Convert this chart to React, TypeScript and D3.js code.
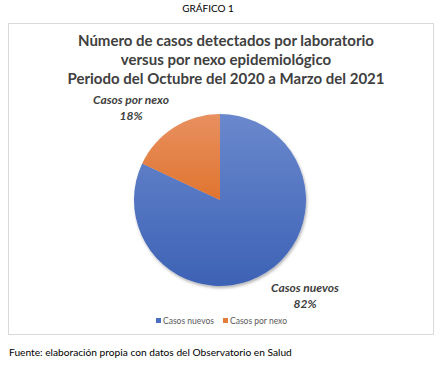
import React from 'react';
import * as d3 from 'd3';

const categories = ['Casos nuevos', 'Casos por nexo'];
const shares = [82, 18];
const colors = ['#4a6fc0', '#e47c3c'];
const titleLines = [
  'Número de casos detectados por laboratorio',
  'versus por nexo epidemiológico',
  'Periodo del Octubre del 2020 a Marzo del 2021',
];

const W = 448;
const H = 369;
const cx = 220;
const cy = 200;
const radius = 86;

const App = () => {
  const pie = d3.pie<number>().sort(null).value(d => d);
  const arcs = pie(shares);
  const arc = d3.arc<d3.PieArcDatum<number>>().innerRadius(0).outerRadius(radius);

  const font = 'Lato, "Open Sans", sans-serif';

  return (
    <svg width={W} height={H} style={{ position: 'absolute', left: 0, top: 0 }}>
      <defs>
        <linearGradient id="gBlue" x1="0" y1="0" x2="0" y2="1">
          <stop offset="0%" stopColor="#6a88cd" />
          <stop offset="100%" stopColor="#3d62b5" />
        </linearGradient>
        <linearGradient id="gOrange" x1="0" y1="0" x2="0" y2="1">
          <stop offset="0%" stopColor="#e89060" />
          <stop offset="100%" stopColor="#e0742f" />
        </linearGradient>
        <filter id="shadow" x="-20%" y="-20%" width="140%" height="140%">
          <feDropShadow dx="1" dy="2" stdDeviation="1.5" floodColor="#000" floodOpacity="0.3" />
        </filter>
      </defs>
      <rect x={0} y={0} width={W} height={H} fill="#fff" />
      <text x={208} y={12} textAnchor="middle" fontFamily={font} fontSize={10} fill="#000">
        GRÁFICO 1
      </text>
      <rect x={8.5} y={23.5} width={425} height={311} fill="#fff" stroke="#d9d9d9" />
      {titleLines.map((t, i) => (
        <text
          key={i}
          x={226}
          y={46 + i * 19}
          textAnchor="middle"
          fontFamily={font}
          fontWeight="bold"
          fontSize={15}
          fill="#404040"
        >
          {t}
        </text>
      ))}
      <g transform={`translate(${cx},${cy})`} filter="url(#shadow)">
        {arcs.map((a, i) => (
          <path key={i} d={arc(a) || ''} fill={i === 0 ? 'url(#gBlue)' : 'url(#gOrange)'} />
        ))}
      </g>
      <text x={131} y={104} textAnchor="middle" fontFamily={font} fontWeight="bold" fontStyle="italic" fontSize={12} fill="#404040">
        {categories[1]}
      </text>
      <text x={131} y={120} textAnchor="middle" fontFamily={font} fontWeight="bold" fontStyle="italic" fontSize={12} fill="#404040">
        {shares[1]}%
      </text>
      <text x={305} y={292} textAnchor="middle" fontFamily={font} fontWeight="bold" fontStyle="italic" fontSize={12} fill="#404040">
        {categories[0]}
      </text>
      <text x={305} y={308} textAnchor="middle" fontFamily={font} fontWeight="bold" fontStyle="italic" fontSize={12} fill="#404040">
        {shares[0]}%
      </text>
      {categories.map((c, i) => {
        const lx = i === 0 ? 156 : 223;
        return (
          <g key={c}>
            <rect x={lx} y={318} width={5} height={5} fill={colors[i]} />
            <text x={lx + 7} y={323.5} fontFamily={font} fontSize={8.5} fill="#595959">
              {c}
            </text>
          </g>
        );
      })}
      <text x={9} y={356} fontFamily={font} fontSize={10.2} fill="#000">
        Fuente: elaboración propia con datos del Observatorio en Salud
      </text>
    </svg>
  );
};

export default App;
